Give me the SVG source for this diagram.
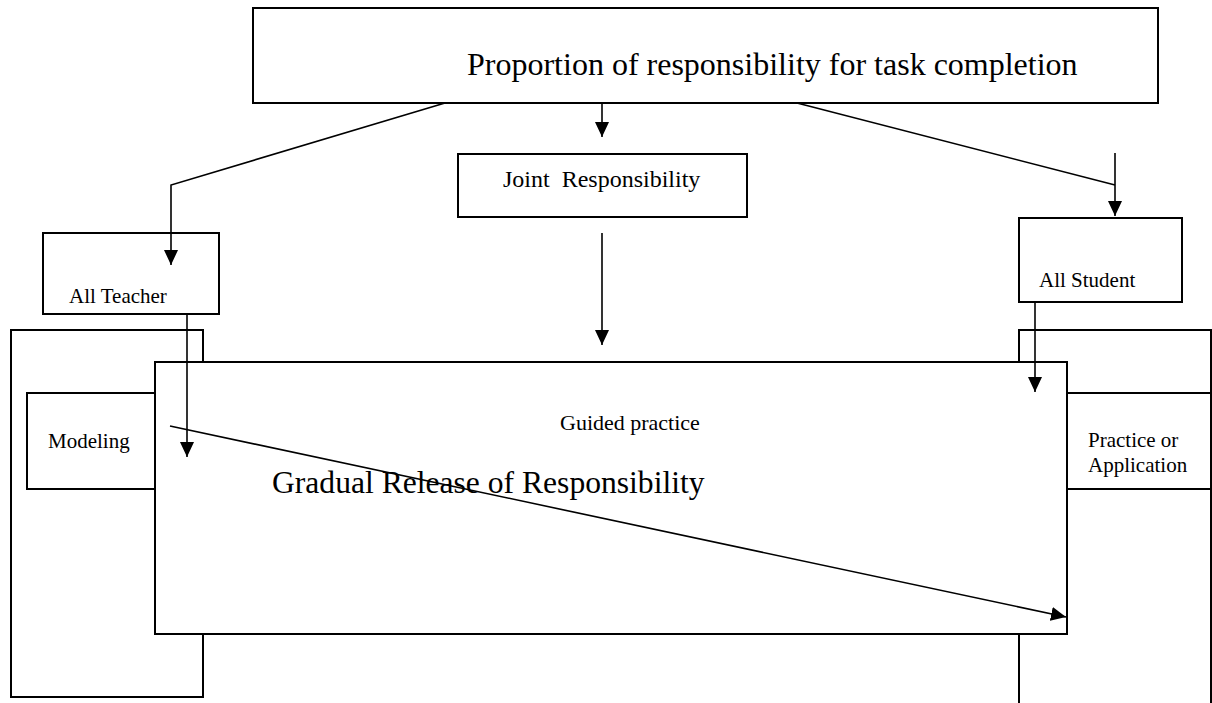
<svg xmlns="http://www.w3.org/2000/svg" width="1212" height="703" viewBox="0 0 1212 703">
<style>
.box{fill:#fff;stroke:#000;stroke-width:2}
.ln{fill:none;stroke:#000;stroke-width:1.6}
.t{font-family:"Liberation Serif","Times New Roman",serif;fill:#000}
.s{font-size:21px}
.b{font-size:32px}
</style>
<defs>
<marker id="ah" viewBox="0 0 15 14" refX="15" refY="7" markerWidth="15" markerHeight="14" markerUnits="userSpaceOnUse" orient="auto">
<path d="M0,0 L15,7 L0,14 Z" fill="#000"/>
</marker>
</defs>
<rect width="1212" height="703" fill="#fff"/>
<g id="top-box">
<rect class="box" x="253" y="8" width="905" height="95"/>
<text class="t b" x="467" y="75">Proportion of responsibility for task completion</text>
</g>
<g id="joint">
<rect class="box" x="458" y="154" width="289" height="63"/>
<text class="t" style="font-size:24px" x="503" y="187" xml:space="preserve">Joint  Responsibility</text>
</g>
<g id="all-teacher">
<rect class="box" x="43" y="233" width="176" height="81"/>
<text class="t s" x="69" y="303">All Teacher</text>
</g>
<g id="all-student">
<rect class="box" x="1019" y="218" width="163" height="84"/>
<text class="t s" x="1039" y="287">All Student</text>
</g>
<g id="modeling-frame">
<rect class="box" x="11" y="330" width="192" height="367"/>
</g>
<g id="modeling">
<rect class="box" x="27" y="393" width="150" height="96"/>
<text class="t s" x="48" y="448">Modeling</text>
</g>
<g id="practice-frame">
<rect class="box" x="1019" y="330" width="192" height="390"/>
</g>
<g id="practice">
<rect class="box" x="1040" y="393" width="171" height="96"/>
<text class="t s" x="1088" y="447">Practice or</text>
<text class="t s" x="1088" y="472">Application</text>
</g>
<g id="guided">
<rect class="box" x="155" y="362" width="912" height="272"/>
<text class="t" style="font-size:22px" x="560" y="430">Guided practice</text>
<text class="t" style="font-size:31.6px" x="272" y="493">Gradual Release of Responsibility</text>
</g>
<g id="connectors">
<polyline class="ln" points="445,103 171,185 171,265" marker-end="url(#ah)"/>
<line class="ln" x1="602" y1="103" x2="602" y2="137" marker-end="url(#ah)"/>
<polyline class="ln" points="797,103 1115,185"/>
<line class="ln" x1="1115" y1="153" x2="1115" y2="216" marker-end="url(#ah)"/>
<line class="ln" x1="602" y1="233" x2="602" y2="345" marker-end="url(#ah)"/>
<line class="ln" x1="187" y1="314" x2="187" y2="457" marker-end="url(#ah)"/>
<line class="ln" x1="1035" y1="302" x2="1035" y2="392" marker-end="url(#ah)"/>
<line class="ln" x1="170" y1="426" x2="1066" y2="617" marker-end="url(#ah)"/>
</g>
</svg>
